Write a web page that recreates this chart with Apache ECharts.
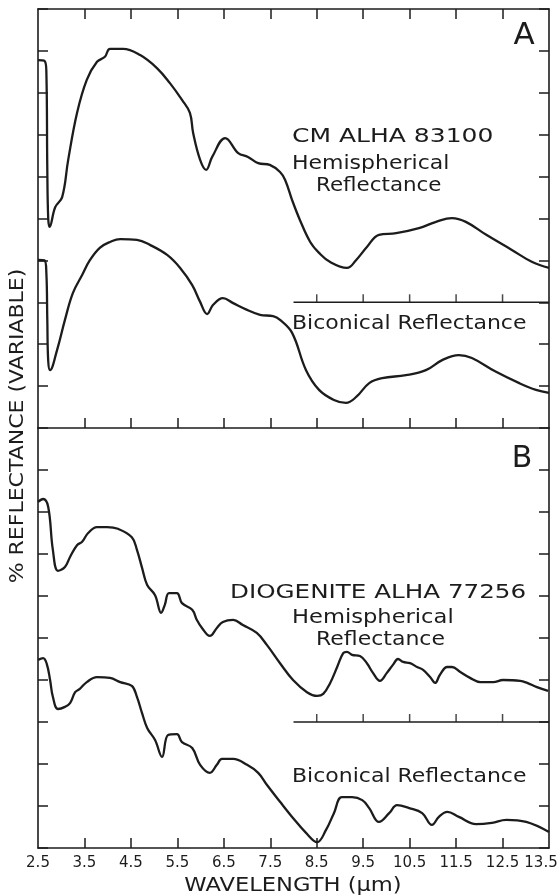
<!DOCTYPE html>
<html>
<head>
<meta charset="utf-8">
<script src="https://cdn.jsdelivr.net/npm/echarts@6/dist/echarts.min.js"></script>
<style>html,body{margin:0;padding:0;background:#fff;}#c{width:559px;height:896px;}</style>
</head>
<body>
<div id="c"></div>
<script>
// ---- data (wavelength in µm, relative reflectance in tick units) ----
const xTicks = [3.5, 4.5, 5.5, 6.5, 7.5, 8.5, 9.5, 10.5, 11.5, 12.5];
const xLabels = [2.5, 3.5, 4.5, 5.5, 6.5, 7.5, 8.5, 9.5, 10.5, 11.5, 12.5, 13.5];
const baselineStart = 8.0;
const baselineEnd = 13.5;
const baselineLevel = 3;
const baselineTicks = [8.5, 9.5, 10.5, 11.5, 12.5];

const cmHemispherical = [[2.50,8.78],[2.64,8.76],[2.68,8.5],[2.70,6.2],[2.72,5.0],[2.75,4.80],[2.87,5.27],[3.02,5.51],[3.15,6.40],[3.34,7.52],[3.55,8.31],[3.77,8.74],[3.94,8.86],[4.05,9.05],[4.33,9.05],[4.70,8.90],[5.06,8.59],[5.34,8.23],[5.60,7.83],[5.77,7.52],[5.84,7.04],[5.99,6.40],[6.12,6.16],[6.25,6.47],[6.53,6.92],[6.81,6.56],[7.02,6.47],[7.24,6.32],[7.49,6.28],[7.71,6.11],[7.82,5.92],[7.97,5.44],[8.14,4.96],[8.36,4.44],[8.55,4.18],[8.79,3.96],[9.15,3.82],[9.35,4.01],[9.58,4.32],[9.84,4.61],[10.21,4.65],[10.70,4.77],[11.07,4.92],[11.41,5.01],[11.71,4.92],[12.15,4.61],[12.70,4.25],[13.14,3.96],[13.50,3.82]];

const cmBiconical = [[2.50,4.01],[2.64,4.00],[2.68,3.7],[2.70,2.6],[2.72,1.6],[2.76,1.38],[2.91,1.86],[3.08,2.58],[3.25,3.22],[3.45,3.65],[3.62,4.01],[3.83,4.30],[4.05,4.44],[4.27,4.51],[4.63,4.49],[4.91,4.37],[5.28,4.13],[5.56,3.82],[5.82,3.41],[5.99,3.01],[6.14,2.72],[6.27,2.94],[6.48,3.10],[6.70,2.98],[7.00,2.82],[7.28,2.70],[7.56,2.67],[7.71,2.58],[7.97,2.27],[8.27,1.38],[8.55,0.91],[8.87,0.67],[9.13,0.60],[9.35,0.74],[9.63,1.07],[9.91,1.19],[10.42,1.26],[10.85,1.38],[11.20,1.62],[11.56,1.74],[11.84,1.67],[12.36,1.34],[12.86,1.07],[13.22,0.91],[13.50,0.84]];

const dioHemispherical = [[2.50,8.24],[2.61,8.31],[2.72,8.12],[2.82,7.10],[2.93,6.60],[3.08,6.69],[3.19,6.93],[3.34,7.21],[3.45,7.29],[3.58,7.50],[3.77,7.64],[3.99,7.64],[4.22,7.60],[4.52,7.40],[4.63,7.10],[4.74,6.67],[4.85,6.26],[5.02,6.02],[5.15,5.60],[5.23,5.79],[5.32,6.07],[5.49,6.07],[5.60,5.83],[5.82,5.67],[5.92,5.43],[6.03,5.24],[6.20,5.05],[6.35,5.24],[6.48,5.38],[6.70,5.43],[6.91,5.31],[7.21,5.12],[7.43,4.83],[7.71,4.40],[7.99,4.00],[8.29,3.71],[8.51,3.62],[8.64,3.67],[8.79,3.93],[8.94,4.31],[9.07,4.64],[9.15,4.67],[9.26,4.60],[9.43,4.57],[9.58,4.40],[9.71,4.17],[9.86,3.98],[10.01,4.17],[10.14,4.36],[10.25,4.50],[10.36,4.43],[10.51,4.40],[10.66,4.31],[10.79,4.24],[10.94,4.07],[11.05,3.93],[11.15,4.12],[11.31,4.31],[11.41,4.31],[11.59,4.19],[11.80,4.05],[12.02,3.95],[12.30,3.95],[12.51,4.00],[12.88,3.98],[13.03,3.93],[13.24,3.83],[13.48,3.74]];

const dioBiconical = [[2.50,4.48],[2.61,4.52],[2.69,4.38],[2.76,4.00],[2.82,3.60],[2.93,3.31],[3.08,3.36],[3.19,3.45],[3.30,3.71],[3.40,3.79],[3.55,3.95],[3.77,4.07],[4.05,4.05],[4.27,3.95],[4.52,3.86],[4.63,3.60],[4.74,3.21],[4.85,2.86],[5.02,2.57],[5.17,2.17],[5.30,2.69],[5.49,2.71],[5.60,2.52],[5.82,2.38],[5.99,1.98],[6.20,1.79],[6.35,1.98],[6.46,2.12],[6.70,2.12],[7.00,1.98],[7.24,1.79],[7.43,1.50],[7.71,1.10],[7.97,0.74],[8.27,0.36],[8.51,0.14],[8.70,0.43],[8.87,0.83],[9.04,1.21],[9.26,1.21],[9.48,1.14],[9.63,0.95],[9.84,0.62],[10.06,0.83],[10.23,1.02],[10.49,0.95],[10.77,0.83],[10.98,0.55],[11.13,0.74],[11.31,0.86],[11.56,0.74],[11.93,0.57],[12.27,0.60],[12.58,0.67],[13.01,0.62],[13.50,0.38]];

// ---- chart ----
const INK = '#1c1c1c';
const FONT = 'DejaVu Sans';
const chart = echarts.init(document.getElementById('c'), null, {renderer: 'canvas'});
const lastLabel = xLabels[xLabels.length - 1];

function xAxisDef(grid, pos, labels) {
  return {
    type: 'value', gridIndex: grid, position: pos, min: 2.5, max: 13.5,
    axisLine: {show: true, onZero: false, lineStyle: {color: INK, width: 1.6}},
    axisTick: {show: true, inside: true, length: 10, customValues: xTicks, lineStyle: {color: INK, width: 1.5}},
    axisLabel: labels ? {show: true, customValues: xLabels, color: INK, fontSize: 15, fontFamily: FONT, margin: 8,
      hideOverlap: false,
      formatter: v => (Math.abs(v - lastLabel) < 1e-6 ? '{r|' + v.toFixed(1) + '}' : v.toFixed(1)),
      rich: {r: {color: INK, fontSize: 15, fontFamily: FONT, padding: [0, 16, 0, 0]}}} : {show: false},
    splitLine: {show: false}
  };
}
function yAxisDef(grid, pos) {
  return {
    type: 'value', gridIndex: grid, position: pos, min: 0, max: 10, interval: 1,
    axisLine: {show: true, onZero: false, lineStyle: {color: INK, width: 1.6}},
    axisTick: {show: true, inside: true, length: 10, lineStyle: {color: INK, width: 1.5}},
    axisLabel: {show: false}, splitLine: {show: false}
  };
}
function curve(data, xi, yi) {
  return {type: 'line', xAxisIndex: xi, yAxisIndex: yi, data: data, symbol: 'none',
    smooth: 0.4, lineStyle: {color: INK, width: 2.3, join: 'round'}, silent: true, z: 3};
}
function baseline(xi, yi) {
  return [
    {type: 'line', xAxisIndex: xi, yAxisIndex: yi, symbol: 'none',
      data: [[baselineStart, baselineLevel], [baselineEnd, baselineLevel]],
      lineStyle: {color: INK, width: 1.6}, silent: true},
    {type: 'scatter', xAxisIndex: xi, yAxisIndex: yi, symbol: 'rect', symbolSize: [1.5, 8], symbolOffset: [0, -4],
      data: baselineTicks.map(x => [x, baselineLevel]), itemStyle: {color: INK}, silent: true}
  ];
}
function txt(text, x, y, size, align, sx, rot) {
  return {type: 'text', x: x, y: y, scaleX: sx || 1, rotation: rot || 0,
    style: {text: text, fill: INK, font: size + 'px "' + FONT + '"', fontSize: size, fontFamily: FONT,
      align: align, textAlign: align, verticalAlign: 'middle', textVerticalAlign: 'middle'}};
}

chart.setOption({
  animation: false,
  backgroundColor: '#fff',
  grid: [
    {left: 38, right: 10, top: 9, height: 419, containLabel: false, outerBoundsMode: 'none'},
    {left: 38, right: 10, top: 428, height: 420, containLabel: false, outerBoundsMode: 'none'}
  ],
  xAxis: [
    xAxisDef(0, 'bottom', false),
    xAxisDef(0, 'top', false),
    xAxisDef(1, 'bottom', true)
  ],
  yAxis: [
    yAxisDef(0, 'left'), yAxisDef(0, 'right'),
    yAxisDef(1, 'left'), yAxisDef(1, 'right')
  ],
  series: [
    curve(cmHemispherical, 0, 0),
    curve(cmBiconical, 0, 0),
    ...baseline(0, 0),
    curve(dioHemispherical, 2, 2),
    curve(dioBiconical, 2, 2),
    ...baseline(2, 2)
  ],
  graphic: [
    txt('A', 524, 36, 31, 'center', 1),
    txt('B', 522, 459, 30, 'center', 1),
    txt('CM ALHA 83100', 292, 137, 20, 'left', 1.25),
    txt('Hemispherical', 292, 164, 20, 'left', 1.1),
    txt('Reflectance', 316, 186, 20, 'left', 1.07),
    txt('Biconical Reflectance', 292, 324, 20, 'left', 1.1),
    txt('DIOGENITE ALHA 77256', 230, 593, 20, 'left', 1.23),
    txt('Hemispherical', 292, 618, 20, 'left', 1.13),
    txt('Reflectance', 316, 640, 20, 'left', 1.1),
    txt('Biconical Reflectance', 292, 777, 20, 'left', 1.1),
    txt('% REFLECTANCE (VARIABLE)', 18, 426, 20, 'center', 1.1, Math.PI / 2),
    txt('WAVELENGTH (\u00b5m)', 293, 886, 20, 'center', 1.13)
  ]
});
</script>
</body>
</html>
